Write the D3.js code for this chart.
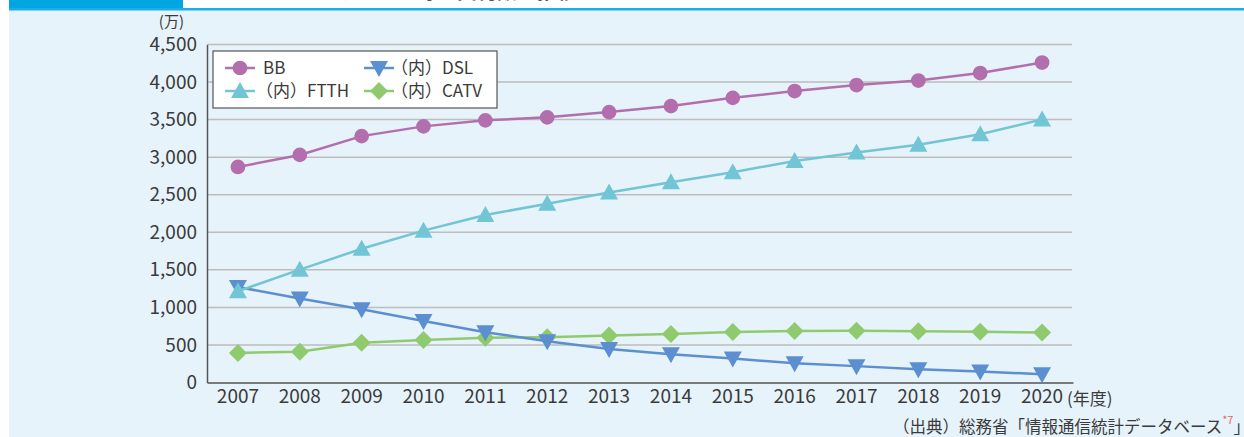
<!DOCTYPE html>
<html lang="ja">
<head>
<meta charset="UTF-8">
<title>ブロードバンド契約数の推移</title>
<script src="https://cdn.jsdelivr.net/npm/d3@7"></script>
<style>
  body { margin: 0; background: #fff; }
  svg text { font-family: "Noto Sans CJK JP", "Noto Sans", sans-serif; fill: #3a3a3a; }
</style>
</head>
<body>
<script>
// data (万契約)
var years = ["2007", "2008", "2009", "2010", "2011", "2012", "2013", "2014", "2015", "2016", "2017", "2018", "2019", "2020"];
var bb   = [2870, 3030, 3280, 3410, 3490, 3530, 3600, 3680, 3790, 3880, 3960, 4020, 4120, 4260];
var ftth = [1215, 1502, 1780, 2022, 2230, 2380, 2530, 2665, 2799, 2950, 3063, 3165, 3304, 3502];
var dsl  = [1271, 1118, 974, 820, 670, 548, 447, 375, 320, 256, 218, 176, 146, 110];
var catv = [394, 411, 530, 567, 595, 603, 625, 645, 672, 686, 689, 683, 675, 665];
var yTicks = [0, 500, 1000, 1500, 2000, 2500, 3000, 3500, 4000, 4500];

var w = 1244, h = 437;
var svg = d3.select("body").append("svg")
    .attr("width", w)
    .attr("height", h);

// panel + header strip
svg.append("rect").attr("x", 9).attr("y", 10).attr("width", w - 9).attr("height", h - 10).attr("fill", "#e6f3fb");
svg.append("rect").attr("x", 9).attr("y", 0).attr("width", 174).attr("height", 9).attr("fill", "#00a6e2");
svg.append("rect").attr("x", 9).attr("y", 8).attr("width", w - 9).attr("height", 2.5).attr("fill", "#1aaee6");
// title (almost entirely above the top edge)
svg.append("text")
    .attr("x", 196).attr("y", -1)
    .attr("font-size", 20)
    .attr("font-weight", "bold")
    .style("fill", "#555")
    .text("ブロードバンドサービス等の契約数の推移");

var x = d3.scaleBand()
    .domain(years)
    .range([207, 1073]);

var y = d3.scaleLinear()
    .domain([0, 4500])
    .range([382.5, 44.5]);

// grid
svg.append("g").selectAll("line")
    .data(yTicks.filter(function (d) { return d > 0; }))
    .enter().append("line")
    .attr("x1", 207).attr("x2", 1072)
    .attr("y1", function (d) { return y(d); })
    .attr("y2", function (d) { return y(d); })
    .attr("stroke", "#bdbdbd")
    .attr("stroke-width", 1.5);

// y axis
var yAxis = svg.append("g")
    .attr("transform", "translate(207,0)")
    .call(d3.axisLeft(y).tickValues(yTicks).tickSize(0).tickPadding(10).tickFormat(d3.format(",")));
yAxis.select(".domain").attr("stroke", "#555").attr("stroke-width", 1.5);
yAxis.selectAll("text").attr("font-size", 19).style("fill", "#3a3a3a");

// x axis
var xAxis = svg.append("g")
    .attr("transform", "translate(0,382.5)")
    .call(d3.axisBottom(x).tickSize(0).tickPadding(7));
xAxis.select(".domain").attr("stroke", "#555").attr("stroke-width", 1.5);
xAxis.selectAll("text").attr("font-size", 19).style("fill", "#3a3a3a");

svg.append("text").attr("x", 1067).attr("y", 405).attr("font-size", 17).text("(年度)");
svg.append("text").attr("x", 184).attr("y", 27).attr("font-size", 15).attr("text-anchor", "end").text("(万)");

// series
var series = [
    { name: "BB", values: bb, color: "#b36ead", shape: "circle" },
    { name: "（内）FTTH", values: ftth, color: "#72c5d4", shape: "up" },
    { name: "（内）DSL", values: dsl, color: "#5b8fcf", shape: "down" },
    { name: "（内）CATV", values: catv, color: "#8fcb6e", shape: "diamond" }
];

function markerPath(shape) {
    if (shape === "up") return "M0,-9L9,7L-9,7Z";
    if (shape === "down") return "M0,9L9,-7L-9,-7Z";
    if (shape === "diamond") return "M0,-9L9,0L0,9L-9,0Z";
    return d3.symbol().type(d3.symbolCircle).size(170)();
}

var line = d3.line()
    .x(function (d, i) { return x(years[i]) + x.bandwidth() / 2; })
    .y(function (d) { return y(d); });

var drawOrder = [0, 3, 2, 1];
drawOrder.forEach(function (k) {
    var s = series[k];
    var g = svg.append("g");
    g.append("path")
        .attr("d", line(s.values))
        .attr("fill", "none")
        .attr("stroke", s.color)
        .attr("stroke-width", 2.5);
    g.selectAll("path.m")
        .data(s.values)
        .enter().append("path")
        .attr("class", "m")
        .attr("transform", function (d, i) {
            return "translate(" + (x(years[i]) + x.bandwidth() / 2) + "," + y(d) + ")";
        })
        .attr("d", markerPath(s.shape))
        .attr("fill", s.color);
});

// legend
var lg = svg.append("g");
lg.append("rect")
    .attr("x", 213).attr("y", 51).attr("width", 284).attr("height", 57)
    .attr("fill", "#fff").attr("stroke", "#555").attr("stroke-width", 1.2);
var legendPos = [[225, 68], [225, 91], [364, 68], [364, 91]];
series.forEach(function (s, i) {
    var p = legendPos[i];
    lg.append("line")
        .attr("x1", p[0]).attr("x2", p[0] + 30)
        .attr("y1", p[1]).attr("y2", p[1])
        .attr("stroke", s.color).attr("stroke-width", 2.5);
    lg.append("path")
        .attr("transform", "translate(" + (p[0] + 15) + "," + p[1] + ")")
        .attr("d", markerPath(s.shape))
        .attr("fill", s.color);
    lg.append("text")
        .attr("x", i < 2 ? (i === 0 ? 263 : 256) : 391)
        .attr("y", p[1] + 6)
        .attr("font-size", 17)
        .text(s.name);
});

// source
var src = svg.append("text").attr("x", 893).attr("y", 433).attr("font-size", 16.5);
src.append("tspan").text("（出典）総務省「情報通信統計データベース");
src.append("tspan").attr("dy", -9).attr("font-size", 11).style("fill", "#e36a5a").text("*7");
src.append("tspan").attr("dy", 9).text("」");
</script>
</body>
</html>
